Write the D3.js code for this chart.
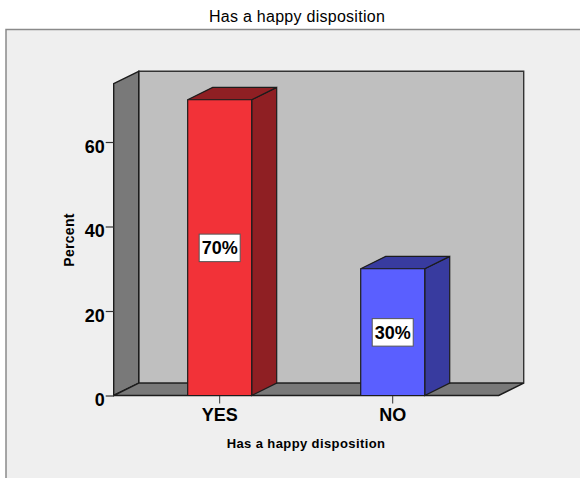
<!DOCTYPE html>
<html>
<head>
<meta charset="utf-8">
<script src="https://cdn.jsdelivr.net/npm/d3@7/dist/d3.min.js"></script>
<style>
  html, body { margin: 0; padding: 0; background: #fff; }
  svg { display: block; }
  text { font-family: "Liberation Sans", Arial, sans-serif; fill: #000; }
</style>
</head>
<body>
<svg id="chart" width="580" height="478"></svg>
<script>
const categories = ["YES", "NO"];
const percents = [70, 30];
const valueLabels = ["70%", "30%"];
const yTicks = [0, 20, 40, 60];
const barFront = ["#f23238", "#5a5fff"];
const barSide = ["#8f1f23", "#383b9f"];

const chartTitle = "Has a happy disposition";
const xAxisTitle = "Has a happy disposition";
const yAxisTitle = "Percent";

const svg = d3.select("#chart");
const edge = "#1c1c1c";

// Front plane of the 3D box, with the oblique depth offset of the back wall.
const plotLeft = 113.7, plotRight = 498.7, plotBottom = 395.5;
const depthX = 25, depthY = -12.4;

const y = d3.scaleLinear().domain([0, 60]).range([plotBottom, 142]);
const axisMax = 73.8;
const x = d3.scaleBand().domain(categories).range([plotLeft, plotRight])
  .paddingInner(0.63).paddingOuter(0.4275);

const poly = (pts, fill, stroke, width) => svg.append("polygon")
  .attr("points", pts.map(p => p.join(",")).join(" "))
  .attr("fill", fill).attr("stroke", stroke).attr("stroke-width", width)
  .attr("stroke-linejoin", "miter");

// Outer panel: only its top and left borders fall inside the page.
svg.append("rect").attr("x", 6).attr("y", 29.5).attr("width", 600).attr("height", 480)
  .attr("fill", "#efefef").attr("stroke", "#8a8a8a").attr("stroke-width", 1.5);

// Walls and floor of the box
const plotTop = y(axisMax);
poly([[plotLeft + depthX, plotTop + depthY], [plotRight + depthX, plotTop + depthY],
      [plotRight + depthX, plotBottom + depthY], [plotLeft + depthX, plotBottom + depthY]],
     "#bfbfbf", "#333", 1.4);
poly([[plotLeft, plotTop], [plotLeft + depthX, plotTop + depthY],
      [plotLeft + depthX, plotBottom + depthY], [plotLeft, plotBottom]],
     "#797979", edge, 1.4);
poly([[plotLeft, plotBottom], [plotLeft + depthX, plotBottom + depthY],
      [plotRight + depthX, plotBottom + depthY], [plotRight, plotBottom]],
     "#797979", edge, 1.4);

// Axes
const yAxis = d3.axisLeft(y).tickValues(yTicks).tickSize(8).tickPadding(1);
const yG = svg.append("g").attr("transform", `translate(${plotLeft},0)`).call(yAxis);
yG.select(".domain").remove();
yG.selectAll("line").attr("stroke", "#333").attr("stroke-width", 1.2);
yG.selectAll("text").attr("font-size", 18).attr("font-weight", "bold")
  .attr("dy", "0.58em").style("font-family", '"Liberation Sans", Arial, sans-serif');

const xAxis = d3.axisBottom(x).tickSize(8).tickPadding(5);
const xG = svg.append("g").attr("transform", `translate(0,${plotBottom})`).call(xAxis);
xG.select(".domain").remove();
xG.selectAll("line").attr("stroke", "#333").attr("stroke-width", 1);
xG.selectAll("text").attr("font-size", 18).attr("font-weight", "bold")
  .style("font-family", '"Liberation Sans", Arial, sans-serif');

// Bars as three visible faces: side, top, front
categories.forEach((c, i) => {
  const x0 = x(c), x1 = x0 + x.bandwidth(), yv = y(percents[i]);
  poly([[x1, yv], [x1 + depthX, yv + depthY], [x1 + depthX, plotBottom + depthY], [x1, plotBottom]],
       barSide[i], edge, 1.2);
  poly([[x0, yv], [x0 + depthX, yv + depthY], [x1 + depthX, yv + depthY], [x1, yv]],
       barSide[i], edge, 1.2);
  poly([[x0, yv], [x1, yv], [x1, plotBottom], [x0, plotBottom]],
       barFront[i], edge, 1.2);

  // Value label, centred on the middle of the bar's height
  const cx = x0 + x.bandwidth() / 2, cy = y(percents[i] / 2);
  svg.append("rect").attr("x", cx - 20.5).attr("y", cy - 13.5).attr("width", 41).attr("height", 27.5)
    .attr("fill", "#fff").attr("stroke", "#555").attr("stroke-width", 1);
  svg.append("text").attr("x", cx).attr("y", cy + 6.6).attr("text-anchor", "middle")
    .attr("font-size", 18).attr("font-weight", "bold").text(valueLabels[i]);
});

// Titles
svg.append("text").attr("x", 297).attr("y", 22).attr("text-anchor", "middle")
  .attr("font-size", 16).attr("letter-spacing", 0.27).text(chartTitle);
svg.append("text").attr("x", 306).attr("y", 448).attr("text-anchor", "middle")
  .attr("font-size", 13).attr("font-weight", "bold").attr("letter-spacing", 0.4).text(xAxisTitle);
svg.append("text").attr("transform", "translate(73.5,240) rotate(-90)").attr("text-anchor", "middle")
  .attr("font-size", 14).attr("font-weight", "bold").attr("letter-spacing", 0.3).text(yAxisTitle);
</script>
</body>
</html>
